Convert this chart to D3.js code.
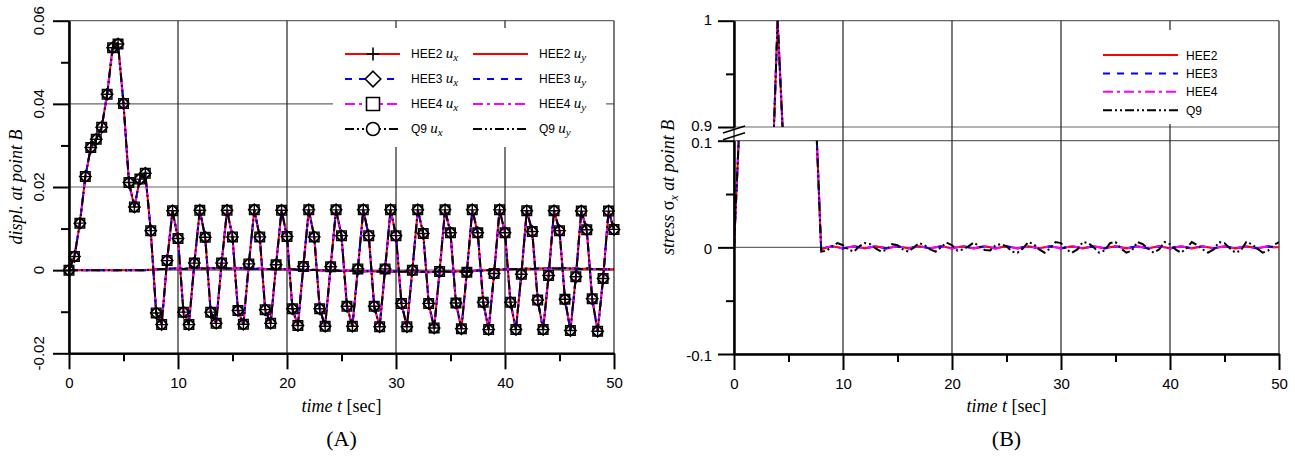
<!DOCTYPE html>
<html>
<head>
<meta charset="utf-8">
<script src="https://cdn.jsdelivr.net/npm/d3@7"></script>
<style>
  body { margin: 0; background: #fff; }
  svg { display: block; font-family: "Liberation Sans", Arial, sans-serif; }
</style>
</head>
<body>
<svg id="chart" width="1295" height="458"></svg>
<script>
// sample times, one every 0.5 sec from 0 to 50
const times = d3.range(0, 50.001, 0.5);

// (A) horizontal displacement at point B, all four elements overlap
const uxValues = [
  0, 0.0033, 0.0113, 0.0225, 0.0295, 0.0315, 0.0344, 0.0423, 0.0535, 0.0544,
  0.0401, 0.0211, 0.0152, 0.0219, 0.0233, 0.0095, -0.0103, -0.0131, 0.0023, 0.0143,
  0.0076, -0.0101, -0.0131, 0.0017, 0.0144, 0.0079, -0.0101, -0.0128, 0.0017, 0.0144,
  0.0080, -0.0097, -0.0130, 0.0015, 0.0145, 0.0080, -0.0095, -0.0128, 0.0013, 0.0144,
  0.0081, -0.0093, -0.0133, 0.0009, 0.0145, 0.0080, -0.0093, -0.0135, 0.0008, 0.0145,
  0.0083, -0.0087, -0.0135, 0.0003, 0.0145, 0.0083, -0.0087, -0.0136, 0.0003, 0.0145,
  0.0083, -0.0080, -0.0136, 0.0000, 0.0145, 0.0088, -0.0080, -0.0139, -0.0003, 0.0145,
  0.0090, -0.0079, -0.0141, -0.0005, 0.0145, 0.0090, -0.0077, -0.0143, -0.0008, 0.0145,
  0.0090, -0.0077, -0.0143, -0.0010, 0.0143, 0.0093, -0.0072, -0.0143, -0.0013, 0.0143,
  0.0095, -0.0070, -0.0145, -0.0016, 0.0142, 0.0097, -0.0069, -0.0147, -0.0020, 0.0142,
  0.0098
];

// (A) vertical displacement, stays close to zero
const uyValues = [
  0, 0, 0, 0, 0, 0, 0, 0, 0, 0,
  0, 0, 0, 0, 0, 0.0001, 0.0002, 0.0003, 0.0003, 0.0004,
  0.0004, 0.0003, 0.0004, 0.0005, 0.0004, 0.0004, 0.0005, 0.0004, 0.0005, 0.0004,
  0.0004, 0.0005, 0.0004, 0.0004, 0.0003, 0.0004, 0.0003, 0.0003, 0.0002, 0.0003,
  0.0002, 0.0002, 0.0001, 0.0001, 0.0000, 0.0001, -0.0001, 0.0000, -0.0001, -0.0001,
  -0.0002, -0.0001, -0.0002, -0.0002, -0.0003, -0.0002, -0.0003, -0.0003, -0.0004, -0.0003,
  -0.0003, -0.0004, -0.0003, -0.0004, -0.0004, -0.0004, -0.0005, -0.0004, -0.0004, -0.0003,
  -0.0004, -0.0003, -0.0003, -0.0002, -0.0002, -0.0001, -0.0001, 0.0000, 0.0001, 0.0001,
  0.0002, 0.0002, 0.0003, 0.0003, 0.0004, 0.0003, 0.0004, 0.0004, 0.0005, 0.0004,
  0.0004, 0.0005, 0.0004, 0.0004, 0.0003, 0.0004, 0.0003, 0.0003, 0.0002, 0.0002,
  0.0002
];

// (B) stress sigma_x, HEE2/HEE3/HEE4
const sxShell = [
  0, 0.116, 0.30, 0.45, 0.55, 0.62, 0.70, 0.85, 1.00, 0.89,
  0.70, 0.52, 0.42, 0.36, 0.30, 0.126, -0.002, 0.000, 0.001, 0.000,
  -0.001, 0.000, 0.001, 0.000, -0.001, 0.000, 0.001, 0.000, -0.001, 0.000,
  0.001, 0.000, -0.001, 0.000, 0.001, 0.000, -0.001, 0.000, 0.001, 0.000,
  -0.001, 0.000, 0.001, 0.000, -0.001, 0.000, 0.001, 0.000, -0.001, 0.000,
  0.001, 0.000, -0.001, 0.000, 0.001, 0.000, -0.001, 0.000, 0.001, 0.000,
  -0.001, 0.000, 0.001, 0.000, -0.001, 0.000, 0.001, 0.000, -0.001, 0.000,
  0.001, 0.000, -0.001, 0.000, 0.001, 0.000, -0.001, 0.000, 0.001, 0.000,
  -0.001, 0.000, 0.001, 0.000, -0.001, 0.000, 0.001, 0.000, -0.001, 0.000,
  0.001, 0.000, -0.001, 0.000, 0.001, 0.000, -0.001, 0.000, 0.001, 0.000,
  0.000
];

// (B) stress sigma_x, Q9 (small ripple after the pulse)
const sxQ9 = [
  0, 0.116, 0.30, 0.45, 0.55, 0.62, 0.70, 0.85, 1.00, 0.89,
  0.70, 0.52, 0.42, 0.36, 0.30, 0.126, -0.004, -0.003, 0.001, 0.004,
  0.002, -0.002, -0.004, 0.001, 0.004, 0.003, -0.001, -0.004, -0.002, 0.003,
  0.002, -0.002, -0.004, 0.000, 0.004, 0.002, -0.002, -0.004, 0.000, 0.0045,
  0.002, -0.003, -0.002, 0.001, 0.0045, 0.001, -0.0025, -0.003, 0.002, 0.003,
  0.001, -0.004, -0.005, -0.001, 0.005, 0.003, -0.002, -0.005, -0.001, 0.005,
  0.004, -0.002, -0.005, -0.002, 0.005, 0.004, 0.000, -0.005, -0.003, 0.004,
  0.005, -0.001, -0.005, -0.003, 0.005, 0.003, -0.001, -0.005, -0.002, 0.005,
  0.003, -0.002, -0.005, -0.001, 0.005, 0.002, -0.002, -0.005, -0.002, 0.005,
  0.004, -0.001, -0.005, -0.003, 0.005, 0.003, -0.001, -0.005, -0.003, 0.002,
  0.005
];

const seriesNames = ["HEE2", "HEE3", "HEE4", "Q9"];
const seriesColors = ["#ff0000", "#0000ff", "#ff00ff", "#000000"];
const seriesDash = [null, "7,7", "10,4,3,4", "9,3,2,3,2,3"];
const markerTypes = ["plus", "diamond", "square", "circle"];

const timeTicks = [0, 10, 20, 30, 40, 50];
const timeMinor = [5, 15, 25, 35, 45];
const dispTicks = [-0.02, 0, 0.02, 0.04, 0.06];
const dispMinor = [-0.01, 0.01, 0.03, 0.05];
const stressHighTicks = [0.9, 1];
const stressHighMinor = [0.95];
const stressLowTicks = [-0.1, 0, 0.1];
const stressLowMinor = [-0.05, 0.05];

const sans = '"Liberation Sans", Arial, sans-serif';
const serif = '"Liberation Serif", "Times New Roman", serif';

const svg = d3.select('#chart');

// plain hyphen for negatives, like the original figure
const fmt = digits => d => d === 0 ? '0' : d3.format(digits)(d).replace('\u2212', '-');

function markerPath(type, s) {
  if (type === 'plus') return `M${-s},0H${s}M0,${-s}V${s}`;
  if (type === 'diamond') return `M0,${-s * 1.2}L${s * 1.2},0L0,${s * 1.2}L${-s * 1.2},0Z`;
  if (type === 'square') return `M${-s},${-s}H${s}V${s}H${-s}Z`;
  return `M${s},0A${s},${s} 0 1,1 ${-s},0A${s},${s} 0 1,1 ${s},0`;
}

function styleAxis(g) {
  g.attr('font-size', 15).attr('font-family', sans);
  g.select('.domain').attr('stroke', '#000').attr('stroke-width', 2);
  g.selectAll('.tick line').attr('stroke', '#000').attr('stroke-width', 2);
  g.selectAll('.tick text').attr('fill', '#000');
}

// u_x / u_y style label: "HEE2 u" with italic subscript
function labelWithSub(text, name, sym, sub) {
  text.append('tspan').attr('font-family', sans).attr('font-size', 12).text(name + ' ');
  text.append('tspan').attr('font-family', serif).attr('font-style', 'italic').attr('font-size', 15).text(sym);
  text.append('tspan').attr('font-family', serif).attr('font-style', 'italic').attr('font-size', 11)
    .attr('dy', 3).text(sub);
}

function timeTitle(cx) {
  const t = svg.append('text').attr('x', cx).attr('y', 412).attr('text-anchor', 'middle')
    .attr('font-family', serif).attr('font-size', 18);
  t.append('tspan').attr('font-style', 'italic').text('time t ');
  t.append('tspan').text('[sec]');
}

// ---------------- (A) displacement ----------------
const xA = d3.scaleLinear().domain([0, 50]).range([69, 614]);
const yA = d3.scaleLinear().domain([-0.02, 0.06]).range([353.3, 20.7]);

const gridA = svg.append('g');
gridA.selectAll('.hgrid').data(dispTicks).join('line')
  .attr('x1', xA(0)).attr('x2', xA(50))
  .attr('y1', d => yA(d)).attr('y2', d => yA(d))
  .attr('stroke', '#666').attr('stroke-width', 1.2);
gridA.selectAll('.vgrid').data(timeTicks).join('line')
  .attr('x1', d => xA(d)).attr('x2', d => xA(d))
  .attr('y1', yA(0.06)).attr('y2', yA(-0.02))
  .attr('stroke', '#222').attr('stroke-width', 1.2);

const lineA = d3.line().x((d, i) => xA(times[i])).y(d => yA(d));

const uxSeries = seriesNames.map((name, i) => ({ name, i, values: uxValues }));
const uySeries = seriesNames.map((name, i) => ({ name, i, values: uyValues }));

const plotA = svg.append('g');
plotA.selectAll('.uy').data(uySeries).join('path')
  .attr('d', d => lineA(d.values))
  .attr('fill', 'none')
  .attr('stroke', d => seriesColors[d.i])
  .attr('stroke-width', 2)
  .attr('stroke-dasharray', d => seriesDash[d.i]);
plotA.selectAll('.ux').data(uxSeries).join('path')
  .attr('d', d => lineA(d.values))
  .attr('fill', 'none')
  .attr('stroke', d => seriesColors[d.i])
  .attr('stroke-width', 2)
  .attr('stroke-dasharray', d => seriesDash[d.i]);

// markers on the u_x curves
uxSeries.forEach(s => {
  plotA.append('g').selectAll('path').data(s.values).join('path')
    .attr('transform', (d, i) => `translate(${xA(times[i])},${yA(d)})`)
    .attr('d', markerPath(markerTypes[s.i], 4.8))
    .attr('fill', 'none')
    .attr('stroke', '#000')
    .attr('stroke-width', 1.4);
});

// axes
svg.append('g').attr('transform', `translate(0,${yA(-0.02)})`)
  .call(d3.axisBottom(xA).tickValues(timeMinor).tickSize(8).tickSizeOuter(0).tickFormat(''))
  .call(styleAxis);
svg.append('g').attr('transform', `translate(0,${yA(-0.02)})`)
  .call(d3.axisBottom(xA).tickValues(timeTicks).tickSize(16).tickSizeOuter(0).tickPadding(8))
  .call(styleAxis);
svg.append('g').attr('transform', `translate(${xA(0)},0)`)
  .call(d3.axisLeft(yA).tickValues(dispMinor).tickSize(8).tickSizeOuter(0).tickFormat(''))
  .call(styleAxis);
svg.append('g').attr('transform', `translate(${xA(0)},0)`)
  .call(d3.axisLeft(yA).tickValues(dispTicks).tickSize(16).tickSizeOuter(0).tickFormat(''))
  .call(styleAxis);

// rotated tick labels
svg.append('g').selectAll('text').data(dispTicks).join('text')
  .attr('transform', d => `translate(39,${yA(d)}) rotate(-90)`)
  .attr('text-anchor', 'middle').attr('dy', '0.35em')
  .attr('font-size', 15).attr('font-family', sans)
  .text(fmt('.2f'));

svg.append('text').attr('transform', `translate(16,${(yA(0.06) + yA(-0.02)) / 2}) rotate(-90)`)
  .attr('text-anchor', 'middle').attr('dy', '0.35em')
  .attr('font-family', serif).attr('font-style', 'italic').attr('font-size', 18)
  .text('displ. at point B');

timeTitle((xA(0) + xA(50)) / 2);
svg.append('text').attr('x', (xA(0) + xA(50)) / 2).attr('y', 446)
  .attr('text-anchor', 'middle').attr('font-family', serif).attr('font-size', 22).text('(A)');

// legend (A)
const legA = svg.append('g');
legA.append('rect').attr('x', 333).attr('y', 28).attr('width', 273).attr('height', 119).attr('fill', '#fff');
seriesNames.forEach((name, i) => {
  const y = 54 + 25 * i;
  legA.append('line').attr('x1', 345).attr('x2', 400).attr('y1', y).attr('y2', y)
    .attr('stroke', seriesColors[i]).attr('stroke-width', 2).attr('stroke-dasharray', seriesDash[i]);
  legA.append('path').attr('transform', `translate(373,${y})`)
    .attr('d', markerPath(markerTypes[i], 6.5))
    .attr('fill', '#fff').attr('stroke', '#000').attr('stroke-width', 1.6);
  labelWithSub(legA.append('text').attr('x', 411).attr('y', y + 4), name, 'u', 'x');
  legA.append('line').attr('x1', 473).attr('x2', 528).attr('y1', y).attr('y2', y)
    .attr('stroke', seriesColors[i]).attr('stroke-width', 2).attr('stroke-dasharray', seriesDash[i]);
  labelWithSub(legA.append('text').attr('x', 539).attr('y', y + 4), name, 'u', 'y');
});

// ---------------- (B) stress, broken axis ----------------
const xB = d3.scaleLinear().domain([0, 50]).range([734, 1279]);
const yLow = d3.scaleLinear().domain([-0.1, 0.1]).range([354, 140.7]);
const yHigh = d3.scaleLinear().domain([0.9, 1]).range([127, 20.7]);

const gridB = svg.append('g');
gridB.selectAll('.hgrid').data(stressHighTicks.map(v => yHigh(v)).concat(stressLowTicks.map(v => yLow(v))))
  .join('line')
  .attr('x1', xB(0)).attr('x2', xB(50))
  .attr('y1', d => d).attr('y2', d => d)
  .attr('stroke', '#666').attr('stroke-width', 1.2);
gridB.selectAll('.vgrid').data(timeTicks).join('line')
  .attr('x1', d => xB(d)).attr('x2', d => xB(d))
  .attr('y1', yHigh(1)).attr('y2', yLow(-0.1))
  .attr('stroke', '#222').attr('stroke-width', 1.2);

const defs = svg.append('defs');
defs.append('clipPath').attr('id', 'clipHigh').append('rect')
  .attr('x', xB(0)).attr('y', yHigh(1) - 2).attr('width', xB(50) - xB(0)).attr('height', yHigh(0.9) - yHigh(1) + 2);
defs.append('clipPath').attr('id', 'clipLow').append('rect')
  .attr('x', xB(0)).attr('y', yLow(0.1)).attr('width', xB(50) - xB(0)).attr('height', yLow(-0.1) - yLow(0.1));

const stressSeries = seriesNames.map((name, i) => ({ name, i, values: name === 'Q9' ? sxQ9 : sxShell }));

[['clipLow', yLow], ['clipHigh', yHigh]].forEach(([clip, ys]) => {
  const line = d3.line().x((d, i) => xB(times[i])).y(d => ys(d));
  svg.append('g').attr('clip-path', `url(#${clip})`)
    .selectAll('path').data(stressSeries).join('path')
    .attr('d', d => line(d.values))
    .attr('fill', 'none')
    .attr('stroke', d => seriesColors[d.i])
    .attr('stroke-width', 2)
    .attr('stroke-dasharray', d => seriesDash[d.i]);
});

svg.append('g').attr('transform', `translate(0,${yLow(-0.1)})`)
  .call(d3.axisBottom(xB).tickValues(timeMinor).tickSize(8).tickSizeOuter(0).tickFormat(''))
  .call(styleAxis);
svg.append('g').attr('transform', `translate(0,${yLow(-0.1)})`)
  .call(d3.axisBottom(xB).tickValues(timeTicks).tickSize(16).tickSizeOuter(0).tickPadding(8))
  .call(styleAxis);
[[yHigh, stressHighTicks, stressHighMinor, '0.25em'], [yLow, stressLowTicks, stressLowMinor, '0.42em']]
  .forEach(([ys, major, minor, dy]) => {
    svg.append('g').attr('transform', `translate(${xB(0)},0)`)
      .call(d3.axisLeft(ys).tickValues(minor).tickSize(8).tickSizeOuter(0).tickFormat(''))
      .call(styleAxis);
    svg.append('g').attr('transform', `translate(${xB(0)},0)`)
      .call(d3.axisLeft(ys).tickValues(major).tickSize(16).tickSizeOuter(0).tickPadding(6)
        .tickFormat(fmt('.1~f')))
      .call(styleAxis)
      .call(g => g.selectAll('.tick text').attr('dy', dy));
  });

// axis break marks
const bx = xB(0);
const breakTop = yHigh(0.9), breakBot = yLow(0.1);
svg.append('g').selectAll('line').data([breakTop + 6, breakBot - 1]).join('line')
  .attr('x1', bx - 11).attr('x2', bx + 11)
  .attr('y1', d => d).attr('y2', d => d - 7)
  .attr('stroke', '#000').attr('stroke-width', 1.6);

const yt = svg.append('text').attr('transform', `translate(668,${(yHigh(1) + yLow(-0.1)) / 2}) rotate(-90)`)
  .attr('text-anchor', 'middle').attr('dy', '0.35em')
  .attr('font-family', serif).attr('font-size', 18);
yt.append('tspan').attr('font-style', 'italic').text('stress ');
yt.append('tspan').text('σ');
yt.append('tspan').attr('font-style', 'italic').attr('font-size', 12).attr('dy', 4).text('x');
yt.append('tspan').attr('font-style', 'italic').attr('dy', -4).text(' at point B');

timeTitle((xB(0) + xB(50)) / 2);
svg.append('text').attr('x', (xB(0) + xB(50)) / 2).attr('y', 446)
  .attr('text-anchor', 'middle').attr('font-family', serif).attr('font-size', 22).text('(B)');

// legend (B)
const legB = svg.append('g');
legB.append('rect').attr('x', 1090).attr('y', 30).attr('width', 172).attr('height', 94).attr('fill', '#fff');
seriesNames.forEach((name, i) => {
  const y = 55 + 18.4 * i;
  legB.append('line').attr('x1', 1103).attr('x2', 1178).attr('y1', y).attr('y2', y)
    .attr('stroke', seriesColors[i]).attr('stroke-width', 2).attr('stroke-dasharray', seriesDash[i]);
  legB.append('text').attr('x', 1186).attr('y', y + 4.5)
    .attr('font-family', sans).attr('font-size', 12).text(name);
});
</script>
</body>
</html>
